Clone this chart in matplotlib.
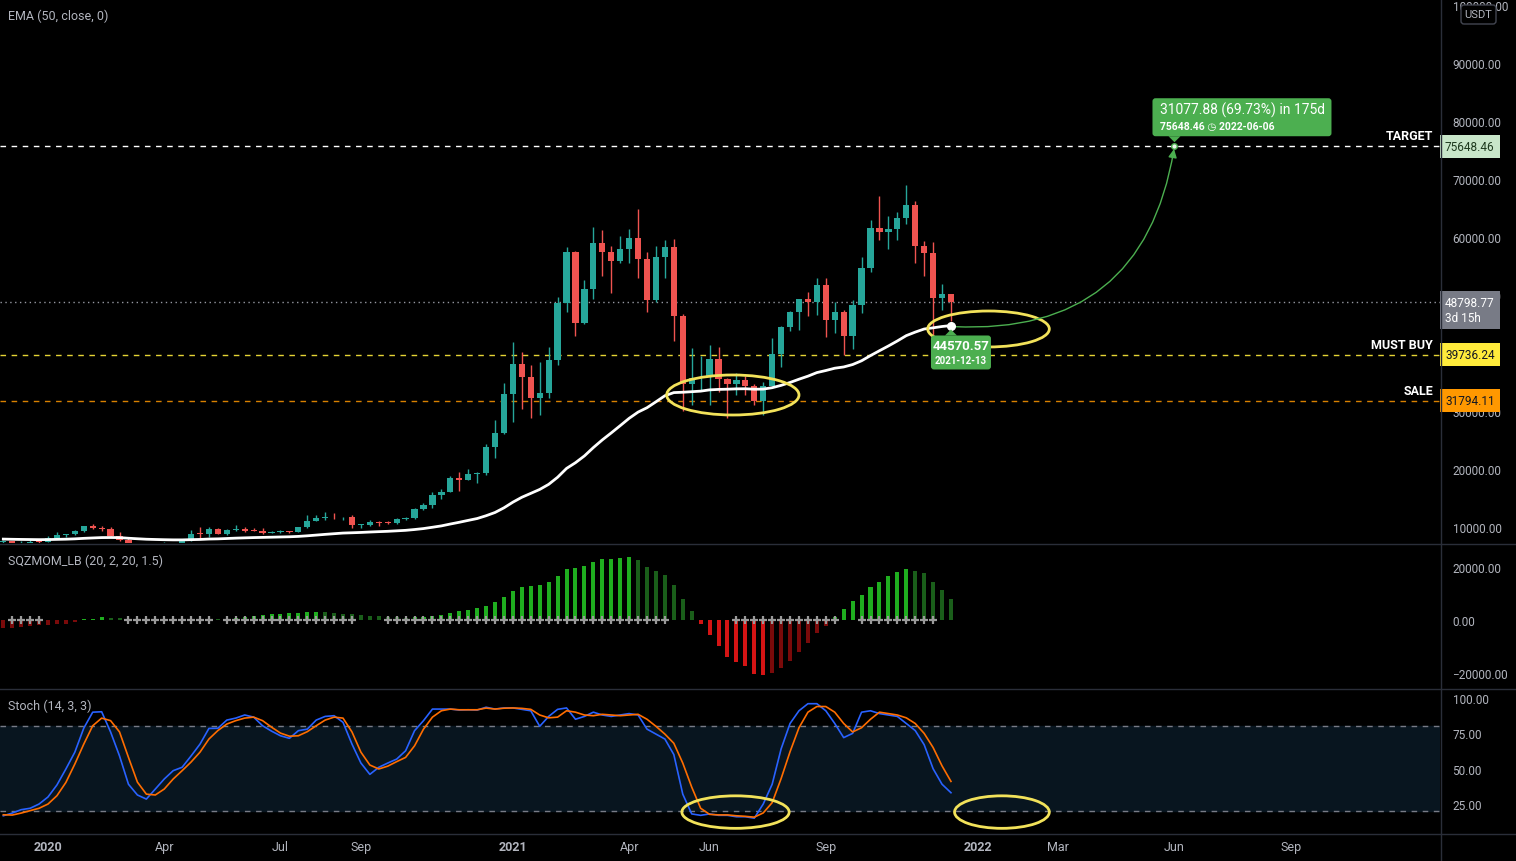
import numpy as np
import pandas as pd
import matplotlib
matplotlib.use("Agg")
import matplotlib.pyplot as plt
from matplotlib.patches import Ellipse, FancyBboxPatch, Polygon, FancyArrowPatch
from matplotlib.transforms import IdentityTransform, offset_copy, blended_transform_factory

plt.rcParams["font.family"] = ["Roboto", "DejaVu Sans"]

# ---- data (weekly BTC/USDT) ----
first_week = "2019-12-02"
opens = [7400, 7510, 7080, 7260, 7390,
         7350, 8180, 8690, 8710, 9370, 10150, 9770, 9700, 8520, 7770,
         5360, 5820, 5880, 6770, 6860, 7120, 7700, 8800, 8720, 9680,
         8720, 9450, 9670, 9340, 9290, 9010, 9070, 9240, 9160, 9930,
         11050, 11590, 11770, 11640, 11660, 10280, 10420, 10920, 10770, 10670,
         11370, 11500, 13030, 13760, 15480, 15960, 18410, 18180, 19150, 19270,
         23780, 26250, 33000, 38150, 35830, 32260, 33090, 38800, 48580, 57410,
         45240, 50970, 58950, 57350, 55790, 58010, 59750, 56150, 49070, 56610,
         58230, 46430, 34700, 35660, 35800, 39020, 35600, 34700, 35290, 34240,
         31780, 34270, 39850, 44400, 47050, 49300, 48840, 51750, 45700, 47130,
         42900, 48200, 54600, 61480, 60860, 61300, 63270, 65500, 58450, 57270,
         49400, 50090]
highs = [7750, 7650, 7500, 7700, 7500,
         8470, 9190, 8800, 9550, 10200, 10500, 10250, 9970, 9180, 8180,
         6940, 7000, 7200, 7460, 7300, 7780, 9460, 10070, 9950, 9840,
         9740, 10430, 9990, 9800, 9770, 9310, 9450, 9350, 9950, 12120,
         12000, 12500, 12490, 11800, 12080, 10600, 11180, 10990, 10950, 11490,
         11730, 13350, 14100, 15970, 16490, 18820, 19480, 19920, 19420, 24300,
         28420, 34780, 41950, 40100, 37850, 38530, 40960, 49710, 58350, 57500,
         52640, 61780, 61200, 58420, 60200, 61300, 64850, 57400, 58450, 59520,
         59600, 46660, 40840, 39480, 41330, 41060, 35750, 36600, 35950, 34600,
         35000, 42600, 44700, 47160, 49380, 50500, 52950, 52920, 48850, 47350,
         49200, 56560, 62930, 67000, 63700, 64270, 69000, 66280, 59270, 59180,
         51950, 50200]
lows = [7300, 7080, 6435, 7150, 6880,
        7330, 8050, 8240, 8650, 9150, 9700, 9300, 8450, 7630, 3780,
        4440, 5690, 5860, 6600, 6470, 6800, 7580, 8120, 8200, 8810,
        8630, 9270, 9200, 9250, 8830, 8900, 9050, 9050, 9130, 9900,
        10950, 11240, 11400, 11130, 9880, 9900, 10220, 10140, 10530, 10540,
        11210, 11430, 12950, 13200, 14850, 15960, 16190, 18110, 17620, 19000,
        21810, 26000, 28130, 30420, 28850, 29240, 32300, 37990, 47000, 43000,
        44950, 49270, 53270, 50430, 55450, 55470, 53000, 47000, 48750, 53000,
        42000, 30000, 31110, 33420, 31000, 33340, 28800, 32700, 32700, 31020,
        29280, 34270, 37650, 43800, 43940, 46380, 46500, 42800, 43370, 39600,
        40750, 46900, 54000, 59500, 58000, 59400, 62280, 55600, 53250, 42000,
        47330, 45500]
closes = [7510, 7080, 7260, 7390, 7350,
          8180, 8690, 8710, 9370, 10150, 9770, 9700, 8520, 7770, 5360,
          5820, 5880, 6770, 6860, 7120, 7700, 8800, 8720, 9680, 8720,
          9450, 9670, 9340, 9290, 9010, 9070, 9240, 9160, 9930, 11050,
          11590, 11770, 11640, 11660, 10280, 10420, 10920, 10770, 10670, 11370,
          11500, 13030, 13760, 15480, 15960, 18410, 18180, 19150, 19270, 23780,
          26250, 33000, 38150, 35830, 32260, 33090, 38800, 48580, 57410, 45240,
          50970, 58950, 57350, 55790, 58010, 59750, 56150, 49070, 56610, 58230,
          46430, 34700, 35660, 35800, 39020, 35600, 34700, 35290, 34240, 31780,
          34270, 39850, 44400, 47050, 49300, 48840, 51750, 45700, 47130, 42900,
          48200, 54600, 61480, 60860, 61300, 63270, 65500, 58450, 57270, 49400,
          50090, 48798.77]

momentum = [-2900, -2900, -2500, -2300, -2000,
            -1800, -1500, -1400, -700, 200, 300, 1100, 900, 600, 300,
            -200, -300, -300, -200, -100, 100, 200, 200, 300, 300,
            500, 700, 1000, 1500, 1900, 2100, 2150, 2500, 2600, 3000,
            3100, 2900, 2600, 2400, 2100, 1800, 1600, 1500, 1300, 1000,
            900, 1000, 1300, 1600, 2000, 2500, 3400, 3700, 4400, 5200,
            6700, 8570, 10960, 12350, 12730, 13100, 14360, 16500, 19150, 19530,
            20400, 21900, 22900, 22950, 23300, 23700, 22550, 19900, 18400, 17000,
            13100, 7800, 3400, -1600, -5700, -9800, -13900, -16000, -17500, -20200,
            -20800, -20000, -18000, -15600, -12100, -8800, -4800, -2300, 1100, 4000,
            7000, 9300, 12350, 14400, 16500, 18100, 19150, 18650, 17600, 14200,
            11300, 7900]
squeeze_off = [0, 1, 1, 1, 1,
               0, 0, 0, 0, 0, 0, 0, 0, 0, 1,
               1, 1, 1, 1, 1, 1, 1, 1, 1, 0,
               1, 1, 1, 1, 1, 1, 1, 1, 1, 1,
               1, 1, 1, 1, 1, 0, 0, 0, 1, 1,
               1, 1, 1, 1, 1, 1, 1, 1, 1, 1,
               1, 1, 1, 1, 1, 1, 1, 1, 1, 1,
               1, 1, 1, 1, 1, 1, 1, 1, 1, 1,
               0, 0, 0, 0, 0, 0, 0, 1, 1, 1,
               1, 1, 1, 1, 1, 1, 1, 1, 1, 0,
               0, 1, 1, 1, 1, 1, 1, 1, 1, 1,
               0, 0]
stoch_k = [16.7, 18.6, 21, 22, 25,
           30, 38.5, 49.8, 61.7, 78.7, 90, 90.3, 76, 59, 39,
           31.4, 28.5, 35.6, 42.7, 48.6, 51, 59, 67.4, 78.5, 78.6,
           84.4, 85.8, 88, 86.5, 80.4, 76.6, 73.3, 71.5, 76.9, 78,
           84.4, 87, 87.5, 82.8, 67.4, 54, 46, 51, 54, 56.8,
           62.7, 76.9, 84, 92.2, 92.2, 92.2, 91.5, 91.7, 91.5, 93.5,
           92.2, 93, 93, 92, 91, 80, 87, 92, 93, 85,
           87, 90, 88, 87, 88, 89, 88, 78, 74.5, 71,
           60, 32, 18, 17, 18, 17, 17, 16, 16, 15,
           25, 39, 64, 82, 91, 96, 96, 91, 82, 72,
           75, 90, 91, 89, 88, 87, 82, 77, 67, 50,
           39, 33]
stoch_d = [17.4, 17.2, 18.6, 20.3, 22,
           25, 30.9, 40.3, 53.3, 67.4, 80.4, 85.8, 84, 76, 58,
           40.5, 32, 31.4, 35.6, 42.7, 48.6, 54.7, 61.7, 71, 77,
           81.6, 84, 85.8, 86.5, 84, 79.4, 75.2, 73, 73.3, 76.2,
           80.4, 84.4, 86.5, 85.8, 76, 61.7, 52.6, 49.8, 51.8, 55,
           58, 66.2, 78, 86.5, 91, 92.2, 91.7, 91.7, 91.7, 92.9,
           92.2, 92.8, 93, 92.7, 92, 88, 86, 86.5, 91, 90,
           88, 87.5, 88.5, 88, 87.5, 88, 88.5, 85, 80, 74.5,
           68, 54, 37, 22, 17.7, 17.3, 17.3, 16.7, 16.3, 15.7,
           18.7, 26, 43, 62, 79, 90, 94, 94, 90, 82,
           76, 79, 85, 90, 89, 88, 86, 82, 75, 65,
           52, 41]

ema_seed = 7930
target_price = 75648.46
must_buy_price = 39736.24
sale_price = 31794.11
anchor_date = "2021-12-13"
anchor_price = 44570.57
target_date = "2022-06-06"
projection_gain = 31077.88
projection_pct = 69.73
projection_days = 175
countdown = "3d 15h"

# 40000 sits fully under the MUST BUY tag in the reference, so it is left out
price_ticks = [10000, 20000, 30000, 50000, 60000, 70000, 80000, 90000, 100000]
mom_ticks = [-20000, 0, 20000]
stoch_ticks = [25, 50, 75, 100]
tick_dates = ["2020-01-06", "2020-04-06", "2020-07-06", "2020-09-07", "2021-01-04", "2021-04-05",
              "2021-06-07", "2021-09-06", "2022-01-03", "2022-03-07", "2022-06-06", "2022-09-05"]
tick_labels = ["2020", "Apr", "Jul", "Sep", "2021", "Apr", "Jun", "Sep", "2022", "Mar", "Jun", "Sep"]

# ---- helpers ----
base = pd.Timestamp("2020-01-06")


def week_pos(d):
    return (pd.Timestamp(d) - base).days / 7


dates = pd.date_range(first_week, periods=len(closes), freq="7D")
xs = np.array([(d - base).days / 7 for d in dates])
o = np.array(opens, float)
h = np.array(highs, float)
l = np.array(lows, float)
c = np.array(closes, float)

W, H = 1516, 862
BG = "black"
TXT = "#b2b5be"
LINE = "#2a2e39"
fig = plt.figure(figsize=(W / 100, H / 100), dpi=100, facecolor=BG)


def rect(top, bottom, left=0, right=1440):
    return [left / W, 1 - bottom / H, (right - left) / W, (bottom - top) / H]


ax1 = fig.add_axes(rect(0, 544))
ax2 = fig.add_axes(rect(545, 689), sharex=ax1)
ax3 = fig.add_axes(rect(690, 834), sharex=ax1)

for ax in (ax1, ax2, ax3):
    ax.set_facecolor(BG)
    for s in ax.spines.values():
        s.set_visible(False)
    ax.yaxis.tick_right()
    ax.tick_params(axis="y", length=0, pad=9, labelcolor=TXT, labelsize=8.5)
    ax.tick_params(axis="x", length=0)

ax1.set_xlim(-5.37, 155.7)
ax1.set_ylim(7241, 101034)
ax2.set_ylim(-25660, 28679)
ax3.set_ylim(4.5, 106.4)

fmt = lambda v, p: ("\u2212" if v < 0 else "") + f"{abs(v):.2f}"
for ax, t in ((ax1, price_ticks), (ax2, mom_ticks), (ax3, stoch_ticks)):
    ax.set_yticks(t)
    ax.yaxis.set_major_formatter(plt.FuncFormatter(fmt))

plt.setp(ax1.get_xticklabels(), visible=False)
plt.setp(ax2.get_xticklabels(), visible=False)
ax3.set_xticks([week_pos(d) for d in tick_dates])
ax3.set_xticklabels(tick_labels)
ax3.tick_params(axis="x", pad=5, labelcolor=TXT, labelsize=9)
for lab in ax3.get_xticklabels():
    if lab.get_text()[0].isdigit():
        lab.set_fontweight("bold")

# ---- main panel: candles + EMA ----
up = c >= o
col = np.where(up, "#26a69a", "#ef5350")
ax1.vlines(xs, l, h, colors=col, lw=1, zorder=2)
body = np.maximum(np.abs(c - o), 160)
ax1.bar(xs, body, bottom=np.minimum(o, c), width=0.7, color=col, lw=0, zorder=3)

ema = pd.Series([ema_seed] + list(c)).ewm(span=50, adjust=False).mean().to_numpy()[1:]
ax1.plot(xs, ema, color="white", lw=2, zorder=4)

# level lines
dash = (0, (4, 4))
ax1.axhline(target_price, color="white", lw=1, ls=dash, zorder=1)
ax1.axhline(must_buy_price, color="#ffeb3b", lw=1, ls=dash, alpha=0.9, zorder=1)
ax1.axhline(sale_price, color="#ff9800", lw=1, ls=dash, alpha=0.85, zorder=1)
ax1.axhline(c[-1], color="#9598a1", lw=1, ls=(0, (1, 2.5)), zorder=1)

blend = blended_transform_factory(ax1.transAxes, ax1.transData)
for price, name in ((target_price, "TARGET"), (must_buy_price, "MUST BUY"), (sale_price, "SALE")):
    ax1.text(1.0, price, name, transform=offset_copy(blend, fig=fig, x=-7, y=4, units="dots"),
             ha="right", va="bottom", color="white", fontsize=9, fontweight="bold", zorder=6)


def price_tag(y, text, fc, tc, dy=0, va="center"):
    ax1.text(1.0, y, text, transform=offset_copy(blend, fig=fig, x=5, y=dy, units="dots"),
             ha="left", va=va, fontsize=8.5, color=tc, clip_on=False, zorder=20, linespacing=1.25,
             bbox=dict(boxstyle="square,pad=0.42", fc=fc, ec="none"))


price_tag(target_price, f"{target_price:.2f}", "#c8e6c9", "#1e3a1e")
price_tag(must_buy_price, f"{must_buy_price:.2f}", "#ffeb3b", "#131722")
price_tag(sale_price, f"{sale_price:.2f}", "#ff9800", "#131722")
price_tag(c[-1], f"{c[-1]:.2f}\n{countdown}", "#787b86", "white", dy=6, va="top")

# ellipses drawn on the chart
yel = "#f2e25a"
ax1.add_patch(Ellipse((76.6, 32760), 14.8, 6900, fill=False, ec=yel, lw=2, zorder=7))
ax1.add_patch(Ellipse((105.2, 44140), 13.6, 6200, fill=False, ec=yel, lw=2, zorder=7))

# projection arrow
xa, xb = week_pos(anchor_date), week_pos(target_date)
green = "#4caf50"
arr = FancyArrowPatch((xa, anchor_price), (xb, target_price), connectionstyle="arc3,rad=0.45",
                      arrowstyle="-|>,head_length=5,head_width=2.5", color=green, lw=1, zorder=8)
ax1.add_patch(arr)
ax1.plot(xa, anchor_price, "o", ms=5.5, color="white", zorder=9)
ax1.plot(xb, target_price, "o", ms=4, color="#e8f5e9", mec=green, zorder=9)

# callout boxes (display pixels relative to anchors)
ID = IdentityTransform()


def callout_shape(patch):
    patch.set_transform(ID)
    patch.set_clip_on(False)
    patch.set_zorder(10)
    ax1.add_artist(patch)


axp, ayp = ax1.transData.transform((xa, anchor_price))
callout_shape(FancyBboxPatch((axp - 20, ayp - 43), 60, 34, boxstyle="round,pad=0,rounding_size=3",
                             fc=green, ec="none"))
callout_shape(Polygon([(axp - 6, ayp - 9), (axp + 6, ayp - 9), (axp, ayp - 3)], closed=True,
                      fc=green, ec="none"))
ax1.text(xa, anchor_price, f"{anchor_price:.2f}", transform=offset_copy(ax1.transData, fig=fig, x=10, y=-19, units="dots"),
         ha="center", va="center", color="white", fontsize=9.5, fontweight="bold", zorder=11)
ax1.text(xa, anchor_price, anchor_date, transform=offset_copy(ax1.transData, fig=fig, x=10, y=-34, units="dots"),
         ha="center", va="center", color="white", fontsize=7, fontweight="bold", zorder=11)

bxp, byp = ax1.transData.transform((xb, target_price))
callout_shape(FancyBboxPatch((bxp - 22, byp + 10), 179, 38, boxstyle="round,pad=0,rounding_size=3",
                             fc=green, ec="none"))
callout_shape(Polygon([(bxp - 6, byp + 10), (bxp + 6, byp + 10), (bxp, byp + 4)], closed=True,
                      fc=green, ec="none"))
ax1.text(xb, target_price, f"{projection_gain:.2f} ({projection_pct:.2f}%) in {projection_days}d",
         transform=offset_copy(ax1.transData, fig=fig, x=-14, y=37, units="dots"),
         ha="left", va="center", color="white", fontsize=10, zorder=11)
ax1.text(xb, target_price, f"{target_price:.2f} \u25f7 {target_date}",
         transform=offset_copy(ax1.transData, fig=fig, x=-14, y=20, units="dots"),
         ha="left", va="center", color="white", fontsize=7.5, fontweight="bold", zorder=11)

# ---- squeeze momentum ----
mom = np.array(momentum, float)
prev = np.concatenate([[mom[0]], mom[:-1]])
mcol = np.where(mom > 0, np.where(mom > prev, "#1fae1f", "#1a5e1a"),
                np.where(mom < prev, "#d41414", "#7a0a0a"))
ax2.bar(xs, mom, width=0.45, color=mcol, lw=0, zorder=2)
off = np.array(squeeze_off) == 1
ax2.plot(xs[off], np.zeros(off.sum()), "+", color="#9a9a9a", ms=6, mew=1.6, zorder=3, ls="none")

# ---- stochastic ----
ax3.axhspan(20, 80, color="#08151f", zorder=0)
ax3.axhline(80, color="#787b86", lw=1, ls=dash, zorder=1)
ax3.axhline(20, color="#787b86", lw=1, ls=dash, zorder=1)
ax3.plot(xs, stoch_k, color="#2962ff", lw=1.2, zorder=3)
ax3.plot(xs, stoch_d, color="#ff6d00", lw=1.2, zorder=3)
ax3.add_patch(Ellipse((76.9, 19.3), 12, 23, fill=False, ec=yel, lw=2, zorder=5))
ax3.add_patch(Ellipse((106.7, 19.3), 10.6, 23, fill=False, ec=yel, lw=2, zorder=5))

# ---- headers ----
for ax, name in ((ax1, "EMA (50, close, 0)"), (ax2, "SQZMOM_LB (20, 2, 20, 1.5)"), (ax3, "Stoch (14, 3, 3)")):
    ax.text(0, 1, name, transform=offset_copy(ax.transAxes, fig=fig, x=8, y=-16, units="dots"),
            ha="left", va="center", color=TXT, fontsize=9)

# ---- frame lines ----
for y in (544.5, 689.5, 834.5):
    fig.add_artist(plt.Line2D([0, W], [H - y, H - y], color=LINE, lw=1, transform=ID))
fig.add_artist(plt.Line2D([1440.5, 1440.5], [H - 862, H], color=LINE, lw=1, transform=ID))

# currency badge
fig.add_artist(FancyBboxPatch((1461, H - 25), 35, 19, boxstyle="round,pad=0,rounding_size=3",
                              fc=BG, ec="#434651", lw=1, transform=ID, zorder=30))
fig.text(1478.5 / W, 1 - 15.5 / H, "USDT", ha="center", va="center", color=TXT, fontsize=8, zorder=31)

plt.savefig("out.png", dpi=100, facecolor=BG)
